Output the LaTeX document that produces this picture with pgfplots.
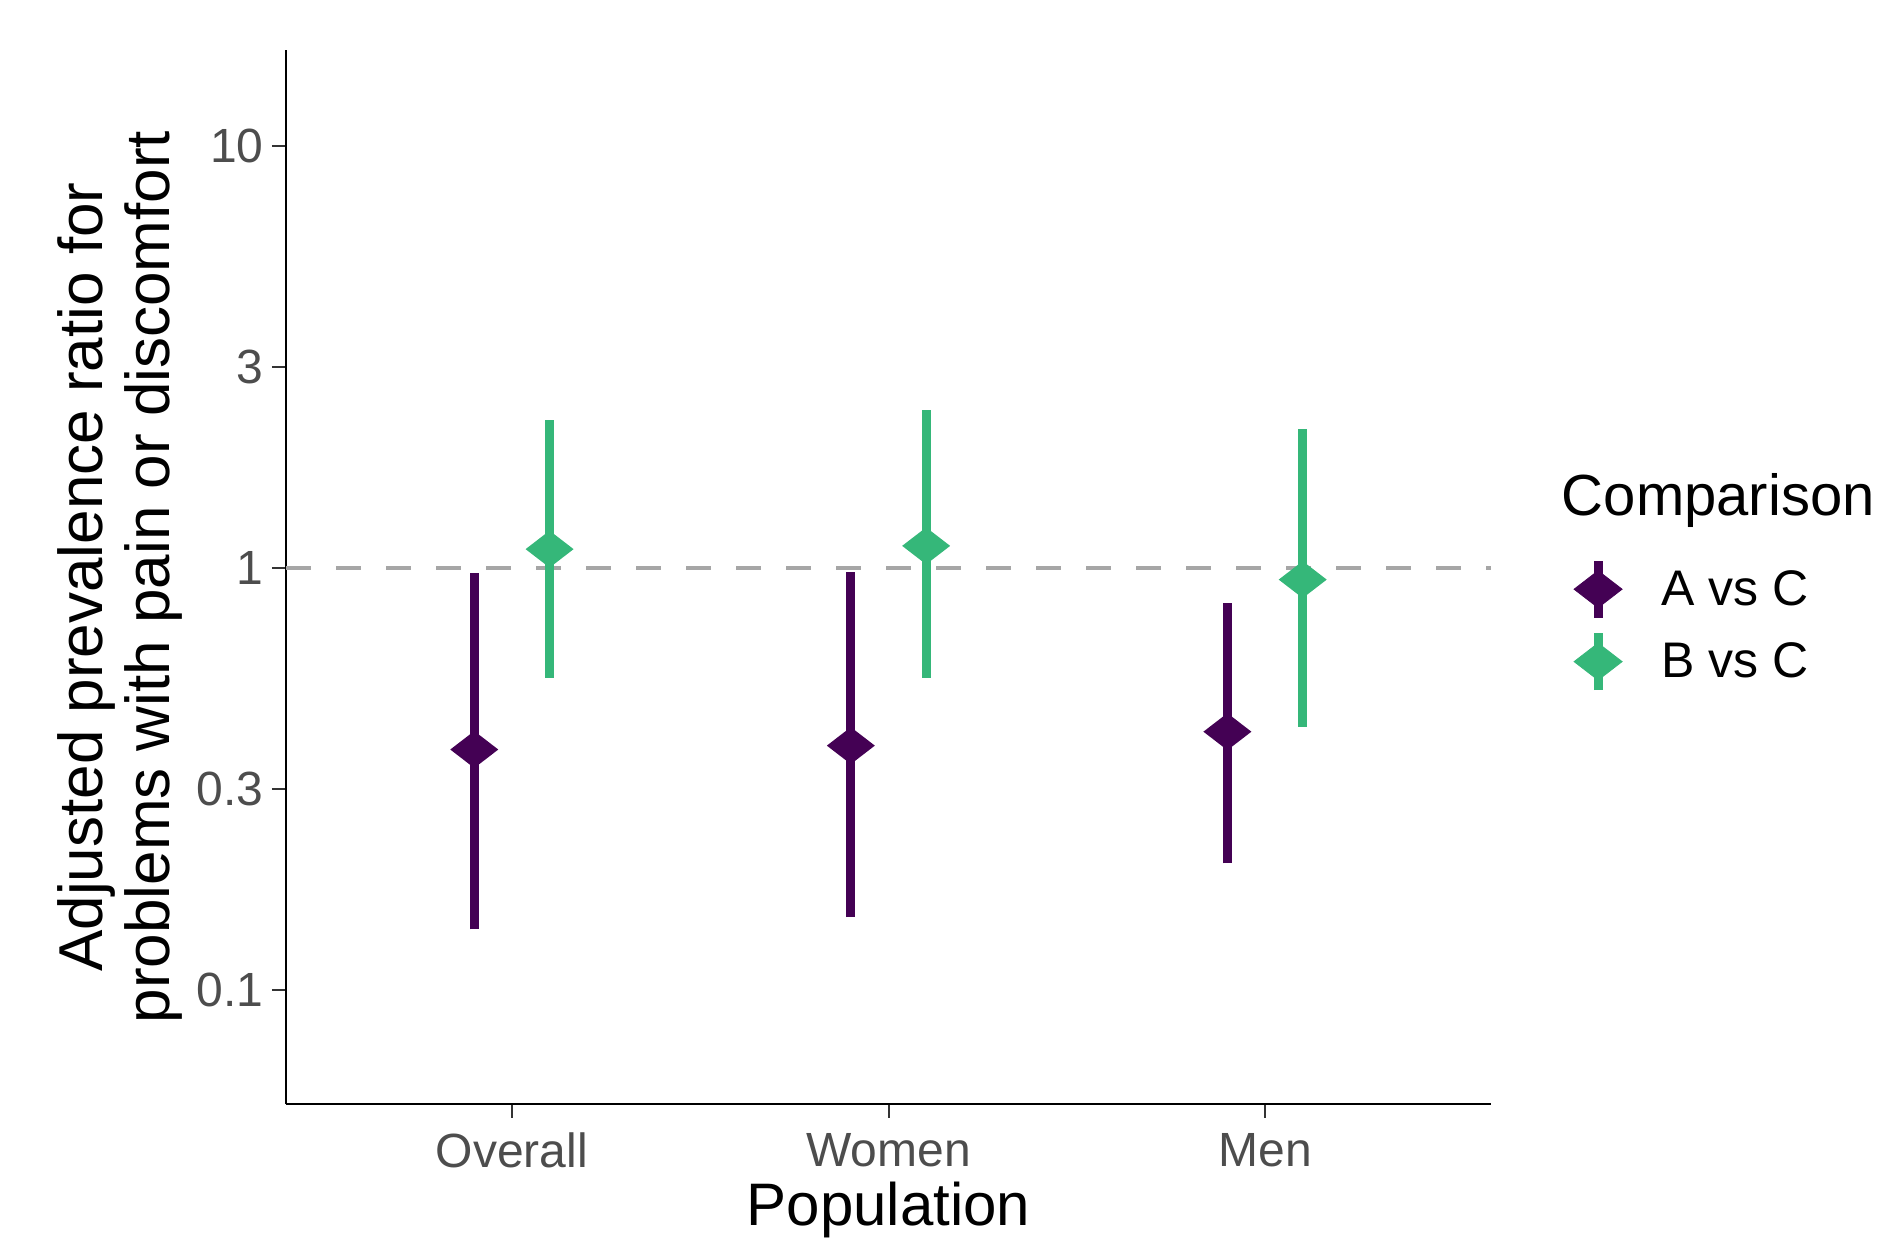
\documentclass[border=0pt]{standalone}
\usepackage{fontspec}
\setmainfont{Liberation Sans}
\usepackage{pgfplots}
\pgfplotsset{compat=1.18}
\definecolor{vpurple}{HTML}{440154}
\definecolor{vgreen}{HTML}{35B779}
\definecolor{tickgray}{HTML}{4D4D4D}
\definecolor{hgray}{HTML}{A6A6A6}
\pgfdeclareplotmark{wdiamond}{%
  \pgfpathmoveto{\pgfqpoint{\pgfplotmarksize}{0pt}}%
  \pgfpathlineto{\pgfqpoint{0pt}{0.77\pgfplotmarksize}}%
  \pgfpathlineto{\pgfqpoint{-\pgfplotmarksize}{0pt}}%
  \pgfpathlineto{\pgfqpoint{0pt}{-0.77\pgfplotmarksize}}%
  \pgfpathclose
  \pgfusepathqfill
}
\begin{document}
\begin{tikzpicture}
\begin{axis}[
  scale only axis, width=602.5bp, height=527bp,
  xmin=0.4, xmax=3.6,
  ymode=log, ymin=0.05377, ymax=16.91,
  axis x line*=bottom, axis y line*=left,
  axis line style={-, black, line width=1.4bp},
  xtick={1,2,3}, xticklabels={Overall,Women,Men},
  ytick={0.1,0.3,1,3,10}, yticklabels={0.1,0.3,1,3,10},
  minor ytick={},
  tick align=outside, major tick length=7bp,
  tick style={color=black!80, line width=1bp},
  /pgf/number format/assume math mode=true,
  xticklabel style={font=\fontsize{24bp}{28.8bp}\selectfont, text=tickgray, inner sep=0pt, anchor=north, yshift=-7.4bp},
  yticklabel style={font=\fontsize{24bp}{28.8bp}\selectfont, text=tickgray, inner sep=0pt, anchor=east, xshift=-4bp},
  xlabel={Population},
  xlabel style={font=\fontsize{30bp}{36bp}\selectfont, inner sep=0pt, at={(axis description cs:0.5,0)}, anchor=base, yshift=-60.5bp},
  ylabel={Adjusted prevalence ratio for\\problems with pain or discomfort},
  ylabel style={font=\fontsize{31bp}{33.5bp}\selectfont, align=center, inner sep=0pt, at={(axis description cs:-0.0858,0.5)}, anchor=south, rotate=0},
  clip=false,
  legend style={at={(axis description cs:1.0683,0.5201)}, anchor=north west, draw=none, fill=none,
    font=\fontsize{25bp}{30bp}\selectfont, row sep=3.2bp, column sep=19.4bp, inner sep=0pt,
    nodes={inner sep=0pt, text=black}},
  legend cell align=left,
]
% reference line at 1
\addplot[hgray, line width=2.2bp, dash pattern=on 12.5bp off 12.5bp, forget plot] coordinates {(0.4,1) (3.6,1)};
% A vs C intervals
\addplot[vpurple, line width=4.5bp, forget plot] coordinates {(0.9,0.1395) (0.9,0.974)};
\addplot[vpurple, line width=4.5bp, forget plot] coordinates {(1.9,0.149) (1.9,0.98)};
\addplot[vpurple, line width=4.5bp, forget plot] coordinates {(2.9,0.200) (2.9,0.828)};
% B vs C intervals
\addplot[vgreen, line width=4.5bp, forget plot] coordinates {(1.1,0.551) (1.1,2.25)};
\addplot[vgreen, line width=4.5bp, forget plot] coordinates {(2.1,0.551) (2.1,2.37)};
\addplot[vgreen, line width=4.5bp, forget plot] coordinates {(3.1,0.421) (3.1,2.14)};
% point estimates
\addplot[only marks, mark=wdiamond, mark size=12bp, color=vpurple,
  legend image code/.code={\draw[line width=4.5bp] (0bp,-14.25bp) -- (0bp,14.25bp);
    \fill (-12bp,0bp) -- (0bp,9.25bp) -- (12bp,0bp) -- (0bp,-9.25bp) -- cycle;}]
  coordinates {(0.9,0.372) (1.9,0.380) (2.9,0.410)};
\addlegendentry{A vs C}
\addplot[only marks, mark=wdiamond, mark size=12bp, color=vgreen,
  legend image code/.code={\draw[line width=4.5bp] (0bp,-14.25bp) -- (0bp,14.25bp);
    \fill (-12bp,0bp) -- (0bp,9.25bp) -- (12bp,0bp) -- (0bp,-9.25bp) -- cycle;}]
  coordinates {(1.1,1.11) (2.1,1.13) (3.1,0.940)};
\addlegendentry{B vs C}
\node[anchor=base west, inner sep=0pt, font=\fontsize{29bp}{35bp}\selectfont] at (axis description cs:1.0585,0.5588) {Comparison};
\end{axis}
\pgfresetboundingbox
\path (-143bp,-67bp) rectangle (797bp,552bp);
\end{tikzpicture}
\end{document}
